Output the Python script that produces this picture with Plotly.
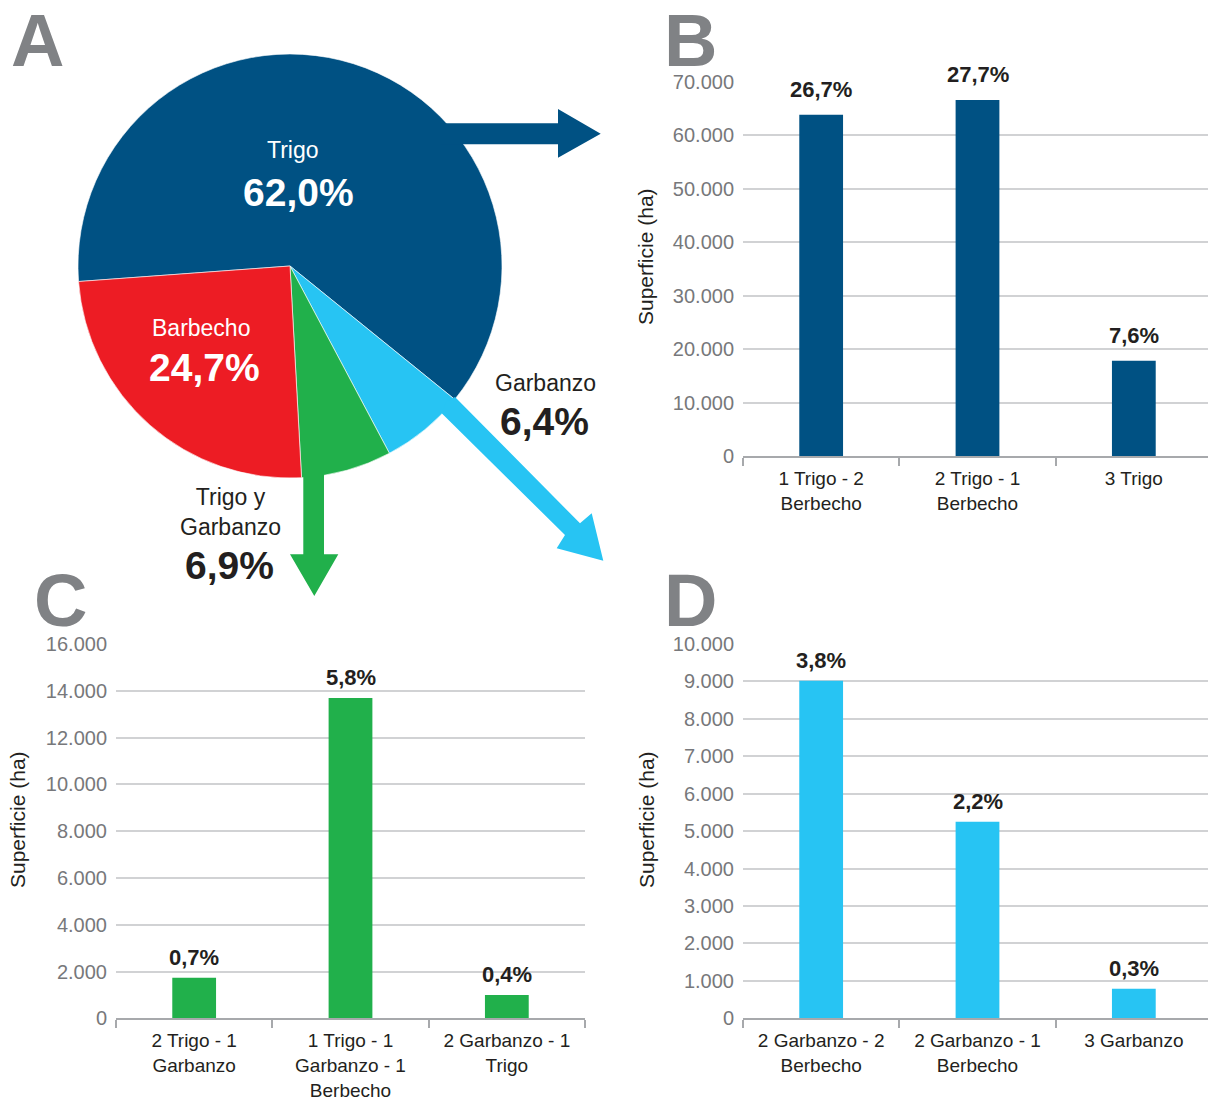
import plotly.graph_objects as go

# ── Data ──────────────────────────────────────────────────────────────────
pie_labels = ["Trigo", "Garbanzo", "Trigo y<br>Garbanzo", "Barbecho"]
pie_pct = [62.0, 6.4, 6.9, 24.7]

b_cats = ["1 Trigo - 2<br>Berbecho", "2 Trigo - 1<br>Berbecho", "3 Trigo"]
b_vals = [63800, 66600, 17800]
b_pct = [26.7, 27.7, 7.6]

c_cats = ["2 Trigo - 1<br>Garbanzo", "1 Trigo - 1<br>Garbanzo - 1<br>Berbecho",
          "2 Garbanzo - 1<br>Trigo"]
c_vals = [1735, 13690, 1000]
c_pct = [0.7, 5.8, 0.4]

d_cats = ["2 Garbanzo - 2<br>Berbecho", "2 Garbanzo - 1<br>Berbecho", "3 Garbanzo"]
d_vals = [9020, 5250, 790]
d_pct = [3.8, 2.2, 0.3]

# ── Palette ───────────────────────────────────────────────────────────────
C_BLUE = "#005183"
C_RED = "#ED1C24"
C_GREEN = "#21B04B"
C_CYAN = "#27C4F3"
C_LETTER = "#808285"
C_TEXT = "#231F20"
C_TICK = "#77787B"
C_GRID = "#D1D2D4"
C_AXIS = "#A7A9AC"
FONT = "Liberation Sans, Arial, sans-serif"

# page body has an 8px margin, so the figure is a bit smaller than the window
OFF = 8
W, H = 1216 - OFF, 1098 - OFF


def px(x):
    return (x - OFF) / W


def py(y):
    return 1 - (y - OFF) / H


def pct(v):
    return f"{v:.1f}".replace(".", ",") + "%"


fig = go.Figure()

# ── A: pie ────────────────────────────────────────────────────────────────
fig.add_trace(go.Pie(
    labels=pie_labels, values=pie_pct,
    marker=dict(colors=[C_BLUE, C_CYAN, C_GREEN, C_RED],
                line=dict(color="white", width=0.6)),
    sort=False, direction="clockwise", rotation=265.8,
    textinfo="none", hoverinfo="label+percent", showlegend=False,
    domain=dict(x=[px(78), px(502)], y=[py(478), py(54)]),
))

# ── Bar panels ────────────────────────────────────────────────────────────
panels = [
    ("x", "y", b_cats, b_vals, b_pct, C_BLUE),
    ("x2", "y2", c_cats, c_vals, c_pct, C_GREEN),
    ("x3", "y3", d_cats, d_vals, d_pct, C_CYAN),
]
for xa, ya, cats, vals, pcts, col in panels:
    fig.add_trace(go.Bar(
        x=cats, y=vals, xaxis=xa, yaxis=ya, width=0.28,
        marker=dict(color=col, line=dict(width=0)),
        showlegend=False, hoverinfo="x+y",
    ))

label_shift = {"x": 11, "x2": 6, "x3": 6}
for xa, ya, cats, vals, pcts, col in panels:
    for c, v, p in zip(cats, vals, pcts):
        fig.add_annotation(
            x=c, y=v, xref=xa, yref=ya, text=f"<b>{pct(p)}</b>",
            showarrow=False, yanchor="bottom", yshift=label_shift[xa],
            font=dict(size=22, color=C_TEXT, family=FONT),
        )

xcommon = dict(
    type="category", showline=True, linecolor=C_AXIS, linewidth=2,
    ticks="outside", tickson="boundaries", ticklen=8, tickwidth=2,
    tickcolor=C_AXIS, showgrid=False, zeroline=False, automargin=False,
    ticklabelstandoff=4,
    tickfont=dict(size=19, color=C_TEXT, family=FONT),
    range=[-0.5, 2.5],
)
ycommon = dict(
    showgrid=True, gridcolor=C_GRID, gridwidth=1.5, zeroline=False,
    showline=False, ticks="", tickformat=",d", ticklabelstandoff=8,
    automargin=False,
    tickfont=dict(size=20, color=C_TICK, family=FONT),
)

fig.update_layout(
    xaxis=dict(domain=[px(743), px(1212)], anchor="y", **xcommon),
    yaxis=dict(domain=[py(456), py(81.7)], anchor="x", range=[0, 70000],
               dtick=10000, **ycommon),
    xaxis2=dict(domain=[px(116), px(585)], anchor="y2", **xcommon),
    yaxis2=dict(domain=[py(1018.3), py(644)], anchor="x2", range=[0, 16000],
                dtick=2000, **ycommon),
    xaxis3=dict(domain=[px(743), px(1212)], anchor="y3", **xcommon),
    yaxis3=dict(domain=[py(1018.3), py(644)], anchor="x3", range=[0, 10000],
                dtick=1000, **ycommon),
)

# ── Axis titles ───────────────────────────────────────────────────────────
for x, y in [(646, 257), (17, 820), (646, 820)]:
    fig.add_annotation(
        x=px(x), y=py(y), xref="paper", yref="paper", text="Superficie (ha)",
        textangle=-90, showarrow=False, xanchor="center", yanchor="middle",
        font=dict(size=21, color=C_TEXT, family=FONT),
    )

# ── Panel letters ─────────────────────────────────────────────────────────
for letter, x, y in [("A", 37, 40), ("B", 690, 40), ("C", 60, 600), ("D", 690, 600)]:
    fig.add_annotation(
        x=px(x), y=py(y), xref="paper", yref="paper", text=f"<b>{letter}</b>",
        showarrow=False, xanchor="center", yanchor="middle",
        font=dict(size=74, color=C_LETTER, family=FONT),
    )

# ── Pie labels ────────────────────────────────────────────────────────────
pie_text_pos = {
    "Trigo": ((293, 150), (298, 193), "white"),
    "Barbecho": ((201, 328), (204, 367), "white"),
    "Garbanzo": ((545, 383), (544, 421), C_TEXT),
    "Trigo y<br>Garbanzo": ((230, 512), (229, 565), C_TEXT),
}
for lab, p in zip(pie_labels, pie_pct):
    (nx, ny), (vx, vy), col = pie_text_pos[lab]
    fig.add_annotation(
        x=px(nx), y=py(ny), xref="paper", yref="paper", text=lab,
        showarrow=False, xanchor="center", yanchor="middle",
        font=dict(size=23, color=col, family=FONT),
    )
    fig.add_annotation(
        x=px(vx), y=py(vy), xref="paper", yref="paper", text=f"<b>{pct(p)}</b>",
        showarrow=False, xanchor="center", yanchor="middle",
        font=dict(size=39, color=col, family=FONT),
    )


# ── Arrows from pie to panels ─────────────────────────────────────────────
def poly(points, color):
    d = "M " + " L ".join(f"{px(x):.5f},{py(y):.5f}" for x, y in points) + " Z"
    fig.add_shape(type="path", path=d, xref="paper", yref="paper",
                  fillcolor=color, line=dict(width=0), layer="above")


poly([(440, 123.3), (558, 123.3), (558, 109), (600.7, 133.7), (558, 157.7),
      (558, 144.3), (440, 144.3)], C_BLUE)
poly([(303.3, 460), (324, 460), (324, 554.3), (338.3, 554.3), (314.3, 596),
      (290, 554.3), (303.3, 554.3)], C_GREEN)
poly([(446, 402), (455, 397), (580, 523.3), (591.7, 513.3), (603.3, 560.7),
      (556.7, 548.3), (565, 535), (441.7, 413.3)], C_CYAN)

fig.update_layout(
    width=W, height=H,
    margin=dict(l=0, r=0, t=0, b=0),
    paper_bgcolor="white", plot_bgcolor="white",
    separators=",.",
    font=dict(family=FONT, color=C_TEXT),
    bargap=0.72,
)

fig.write_html("out.html")
